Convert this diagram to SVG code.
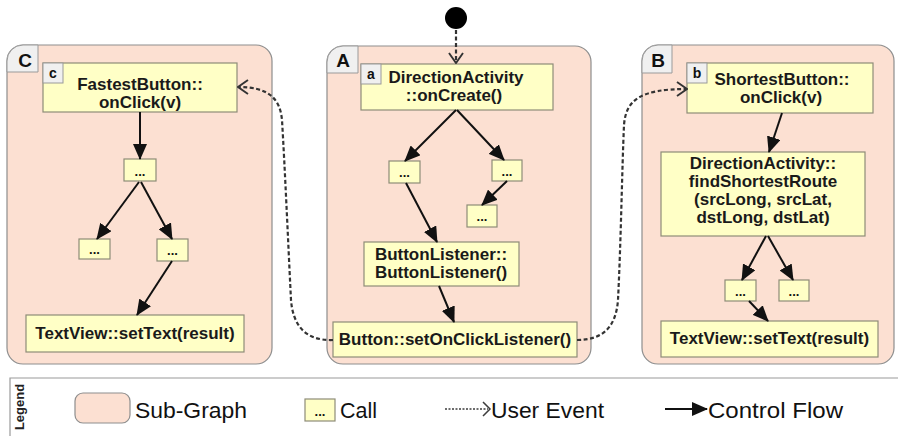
<svg xmlns="http://www.w3.org/2000/svg" width="898" height="436" viewBox="0 0 898 436">
  <defs>
    <style>
      .panel { fill: #fce0d2; stroke: #8e8e8e; stroke-width: 1.2; }
      .tab { fill: #f0f0f0; stroke: #9a9a9a; stroke-width: 1; }
      .node { fill: #ffffc6; stroke: #8e8c78; stroke-width: 1.2; }
      .mini { fill: #f0f0f0; stroke: #9a9a9a; stroke-width: 1; }
      .txt { font-family: "Liberation Sans", Arial, sans-serif; font-weight: bold; font-size: 17px; fill: #1a1a1a; text-anchor: middle; }
      .tabtxt { font-family: "Liberation Sans", Arial, sans-serif; font-weight: bold; font-size: 19px; fill: #111; text-anchor: middle; }
      .minitxt { font-family: "Liberation Sans", Arial, sans-serif; font-weight: bold; font-size: 14px; fill: #111; text-anchor: middle; }
      .dots { font-family: "Liberation Sans", Arial, sans-serif; font-weight: bold; font-size: 13px; fill: #111; text-anchor: middle; }
      .flow { fill: none; stroke: #111; stroke-width: 2; marker-end: url(#cf); }
      .event { fill: none; stroke: #333; stroke-width: 2.2; stroke-dasharray: 4 2.5; }
      .legtxt { font-family: "Liberation Sans", Arial, sans-serif; font-size: 22px; fill: #111; }
    </style>
    <marker id="cf" viewBox="0 0 16 14" refX="15" refY="7" markerWidth="16" markerHeight="14" markerUnits="userSpaceOnUse" orient="auto">
      <path d="M0,0 L16,7 L0,14 z" fill="#111"/>
    </marker>
    <marker id="ue" viewBox="0 0 12 16" refX="11" refY="8" markerWidth="12" markerHeight="16" markerUnits="userSpaceOnUse" orient="auto">
      <path d="M1,1 L11,8 L1,15" fill="none" stroke="#333" stroke-width="1.9"/>
    </marker>
  </defs>

  <rect width="898" height="436" fill="#ffffff"/>

  <!-- Sub-graph C -->
  <g id="subgraph-C">
    <rect class="panel" x="7" y="45" width="265" height="319" rx="16"/>
    <path class="tab" d="M7,72 V61 A16,16 0 0 1 23,45 H38 V72 Z"/>
    <text class="tabtxt" x="25" y="67">C</text>
  </g>
  <!-- Sub-graph A -->
  <g id="subgraph-A">
    <rect class="panel" x="327" y="46" width="264" height="318" rx="16"/>
    <path class="tab" d="M327,73 V62 A16,16 0 0 1 343,46 H358 V73 Z"/>
    <text class="tabtxt" x="343" y="67">A</text>
  </g>
  <!-- Sub-graph B -->
  <g id="subgraph-B">
    <rect class="panel" x="642" y="45" width="252" height="319" rx="16"/>
    <path class="tab" d="M642,73 V61 A16,16 0 0 1 658,45 H672 V73 Z"/>
    <text class="tabtxt" x="658" y="67">B</text>
  </g>

  <!-- Start point -->
  <g id="start">
    <circle cx="456" cy="18" r="11" fill="#000"/>
  </g>

  <!-- Nodes of sub-graph C -->
  <g id="c-onclick">
    <rect class="node" x="43" y="63" width="194" height="49"/>
    <rect class="mini" x="43" y="63" width="20" height="20"/>
    <text class="minitxt" x="53" y="78">c</text>
    <text class="txt" x="140" y="90">FastestButton::</text>
    <text class="txt" x="140" y="108">onClick(v)</text>
  </g>
  <g id="c-call1">
    <rect class="node" x="124" y="159" width="32" height="22"/>
    <text class="dots" x="140" y="176">...</text>
  </g>
  <g id="c-call2">
    <rect class="node" x="79" y="239" width="31" height="20"/>
    <text class="dots" x="94.5" y="254">...</text>
  </g>
  <g id="c-call3">
    <rect class="node" x="157" y="239" width="31" height="22"/>
    <text class="dots" x="172.5" y="255">...</text>
  </g>
  <g id="c-settext">
    <rect class="node" x="26" y="315" width="218" height="37"/>
    <text class="txt" x="135" y="339">TextView::setText(result)</text>
  </g>

  <!-- Nodes of sub-graph A -->
  <g id="a-oncreate">
    <rect class="node" x="361" y="64" width="192" height="46"/>
    <rect class="mini" x="361" y="64" width="20" height="20"/>
    <text class="minitxt" x="371" y="79">a</text>
    <text class="txt" x="456" y="83">DirectionActivity</text>
    <text class="txt" x="454" y="101">::onCreate()</text>
  </g>
  <g id="a-call1">
    <rect class="node" x="389" y="161" width="31" height="22"/>
    <text class="dots" x="404.5" y="177">...</text>
  </g>
  <g id="a-call2">
    <rect class="node" x="492" y="160" width="30" height="21"/>
    <text class="dots" x="507" y="176">...</text>
  </g>
  <g id="a-call3">
    <rect class="node" x="467" y="205" width="30" height="22"/>
    <text class="dots" x="482" y="221">...</text>
  </g>
  <g id="a-buttonlistener">
    <rect class="node" x="364" y="242" width="155" height="44"/>
    <text class="txt" x="441" y="260">ButtonListener::</text>
    <text class="txt" x="441" y="278">ButtonListener()</text>
  </g>
  <g id="a-setonclicklistener">
    <rect class="node" x="333" y="322" width="244" height="35"/>
    <text class="txt" x="455" y="345">Button::setOnClickListener()</text>
  </g>

  <!-- Nodes of sub-graph B -->
  <g id="b-onclick">
    <rect class="node" x="687" y="63" width="186" height="50"/>
    <rect class="mini" x="687" y="63" width="20" height="20"/>
    <text class="minitxt" x="697" y="78">b</text>
    <text class="txt" x="782" y="85">ShortestButton::</text>
    <text class="txt" x="781" y="103">onClick(v)</text>
  </g>
  <g id="b-findshortestroute">
    <rect class="node" x="661" y="152" width="204" height="84"/>
    <text class="txt" x="763" y="169">DirectionActivity::</text>
    <text class="txt" x="763" y="187">findShortestRoute</text>
    <text class="txt" x="763" y="205">(srcLong, srcLat,</text>
    <text class="txt" x="763" y="223">dstLong, dstLat)</text>
  </g>
  <g id="b-call1">
    <rect class="node" x="725" y="280" width="31" height="21"/>
    <text class="dots" x="740.5" y="296">...</text>
  </g>
  <g id="b-call2">
    <rect class="node" x="779" y="280" width="30" height="21"/>
    <text class="dots" x="794" y="296">...</text>
  </g>
  <g id="b-settext">
    <rect class="node" x="661" y="321" width="217" height="36"/>
    <text class="txt" x="769.5" y="344">TextView::setText(result)</text>
  </g>

  <!-- Connectors -->
  <g id="connectors">
    <!-- control flow, C -->
    <path class="flow" d="M140,112 L140,159"/>
    <path class="flow" d="M139,182 L97,239"/>
    <path class="flow" d="M141,182 L172,239"/>
    <path class="flow" d="M172,261 L137,315"/>
    <!-- control flow, A -->
    <path class="flow" d="M456,110 L405,161"/>
    <path class="flow" d="M457,110 L504,160"/>
    <path class="flow" d="M507,181 L482,205"/>
    <path class="flow" d="M406,183 L437,242"/>
    <path class="flow" d="M439,286 L454,322"/>
    <!-- control flow, B -->
    <path class="flow" d="M782,113 L769,152"/>
    <path class="flow" d="M766,236 L742,280"/>
    <path class="flow" d="M768,236 L793,280"/>
    <path class="flow" d="M749,301 L768,321"/>
    <!-- user events -->
    <path class="event" d="M456,30 L456,63" marker-end="url(#ue)"/>
    <path class="event" d="M333,340 C305,341 293,325 291,300 C288,240 285,170 282,120 C280,98 268,87 238,87" marker-end="url(#ue)"/>
    <path class="event" d="M577,340 C604,340 616,326 618,300 C621,240 622,170 624,125 C626,100 640,89 687,89" marker-end="url(#ue)"/>
  </g>

  <!-- Legend -->
  <g id="legend">
    <path d="M10,436 V378 H898" fill="none" stroke="#9a9a9a" stroke-width="1.2"/>
    <text transform="translate(24,407) rotate(-90)" text-anchor="middle" font-family="'Liberation Sans', Arial, sans-serif" font-weight="bold" font-size="13" fill="#222">Legend</text>
    <rect class="panel" x="75" y="393" width="55" height="30" rx="8"/>
    <text class="legtxt" x="135" y="418" textLength="112" lengthAdjust="spacingAndGlyphs">Sub-Graph</text>
    <rect class="node" x="305" y="399" width="30" height="22"/>
    <text class="dots" x="320" y="416" font-size="11">...</text>
    <text class="legtxt" x="340" y="418" textLength="37" lengthAdjust="spacingAndGlyphs">Call</text>
    <path d="M445,409 L488,409" fill="none" stroke="#3c3c3c" stroke-width="1.5" stroke-dasharray="2 1.5"/>
    <path d="M483,402 L490,409 L483,416" fill="none" stroke="#3c3c3c" stroke-width="1.5"/>
    <text class="legtxt" x="491" y="418" textLength="113" lengthAdjust="spacingAndGlyphs">User Event</text>
    <path class="flow" d="M665,409 L707,409"/>
    <text class="legtxt" x="708" y="418" textLength="135" lengthAdjust="spacingAndGlyphs">Control Flow</text>
  </g>
</svg>
